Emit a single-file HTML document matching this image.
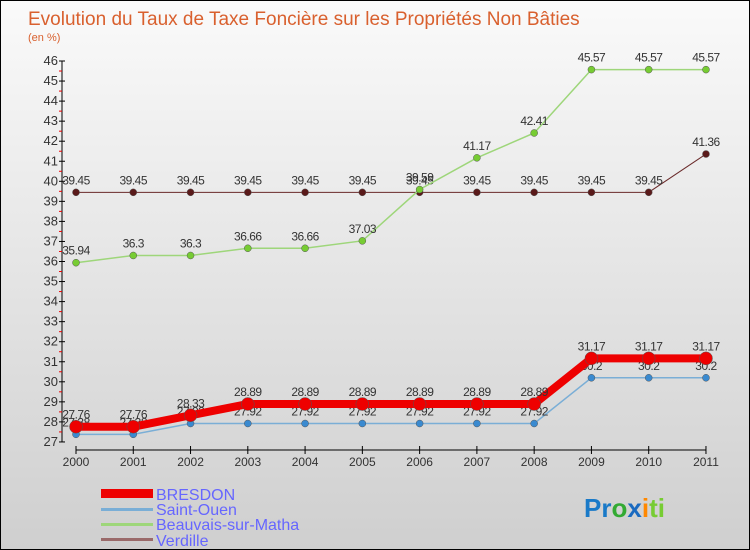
<!DOCTYPE html>
<html><head><meta charset="utf-8"><style>
body{margin:0}
#c{position:relative;width:750px;height:550px;box-sizing:border-box;border:1px solid #000;background:linear-gradient(#fafafa,#cfcfcf);font-family:"Liberation Sans",sans-serif;overflow:hidden}
</style></head><body>
<div id="c">
<svg id="s" width="750" height="550" style="position:absolute;left:0;top:0">
<text x="27" y="24" font-size="19" fill="#d9602e">Evolution du Taux de Taxe Foncière sur les Propriétés Non Bâties</text>
<text x="27" y="40" font-size="11" fill="#d9602e">(en %)</text>
<g id="g"></g>
<g>
<rect x="100" y="488" width="52" height="9" fill="#e00"/>
<text x="155" y="499" font-size="16" fill="#66f">BRESDON</text>
<rect x="100" y="507" width="52" height="3" fill="#7aaed6"/>
<text x="155" y="514" font-size="16" fill="#66f">Saint-Ouen</text>
<rect x="100" y="522" width="52" height="3" fill="#9ed67a"/>
<text x="155" y="529" font-size="16" fill="#66f">Beauvais-sur-Matha</text>
<rect x="100" y="537" width="52" height="3" fill="#9a6a6a"/>
<text x="155" y="545" font-size="16" fill="#66f">Verdille</text>
</g>
<text x="583" y="516" font-size="26" font-weight="bold"><tspan fill="#1a7ac8">Pr</tspan><tspan fill="#3a3">o</tspan><tspan fill="#1a6ac0">x</tspan><tspan fill="#f80">i</tspan><tspan fill="#7c3">ti</tspan></text>
</svg>
</div>
<script>
const years=["2000","2001","2002","2003","2004","2005","2006","2007","2008","2009","2010","2011"];
const yTicks=[27,28,29,30,31,32,33,34,35,36,37,38,39,40,41,42,43,44,45,46];
const bresdon=[27.76,27.76,28.33,28.89,28.89,28.89,28.89,28.89,28.89,31.17,31.17,31.17];
const saintOuen=[27.38,27.38,27.92,27.92,27.92,27.92,27.92,27.92,27.92,30.2,30.2,30.2];
const beauvais=[35.94,36.3,36.3,36.66,36.66,37.03,39.59,41.17,42.41,45.57,45.57,45.57];
const verdille=[39.45,39.45,39.45,39.45,39.45,39.45,39.45,39.45,39.45,39.45,39.45,41.36];
const X=i=>75+i*57.27, Y=v=>60+(46-v)*20.05;
const g=document.getElementById('g'),NS='http://www.w3.org/2000/svg';
function mk(t,a,p){const e=document.createElementNS(NS,t);for(const k in a)e.setAttribute(k,a[k]);(p||g).appendChild(e);return e;}
let e=mk('line',{x1:61,y1:Y(46),x2:61,y2:Y(27),stroke:'#000'});


e=mk('line',{x1:75,y1:449,x2:705,y2:449,stroke:'#000'});


yTicks.forEach(v=>{
 mk('line',{x1:58,y1:Y(v),x2:64,y2:Y(v),stroke:'#000'});
 if(v<46)mk('line',{x1:58,y1:Y(v+0.5),x2:61,y2:Y(v+0.5),stroke:'#e00'});
 e=mk('text',{x:57,y:Y(v)+4,'font-size':13,'text-anchor':'end',fill:'#333'});e.textContent=v;
 
 
});
years.forEach((y,i)=>{
 mk('line',{x1:X(i),y1:445,x2:X(i),y2:453,stroke:'#000'});
 e=mk('text',{x:X(i),y:465,'font-size':12,'text-anchor':'middle',fill:'#333'});e.textContent=y;
 
 
});
function series(d,name,col,w,r,dot,lbl){
 const gg=mk('g',{});
 
 
 mk('polyline',{points:d.map((v,i)=>X(i)+','+Y(v)).join(' '),fill:'none',stroke:col,'stroke-width':w},gg);
 d.forEach((v,i)=>{
  const c=mk('circle',{cx:X(i),cy:Y(v),r:r,fill:dot,stroke:'#555','stroke-width':0.5},gg);
  
  
  if(lbl){const t=mk('text',{x:X(i),y:Y(v)-8,'font-size':12,'text-anchor':'middle',fill:'#333','letter-spacing':'-0.5'},gg);t.textContent=v;
  
  }
 });
}
series(verdille,'verdille','#6a2a2a',1,3.5,'#5a1a1a',1);
series(beauvais,'beauvais','#9ed67a',1.5,3.5,'#7c3',1);
series(saintOuen,'saint-ouen','#7aaed6',1.5,3.5,'#3a8ad0',1);
series(bresdon,'bresdon','#e00',8,6.5,'#e00',1);
</script>
</body></html>
